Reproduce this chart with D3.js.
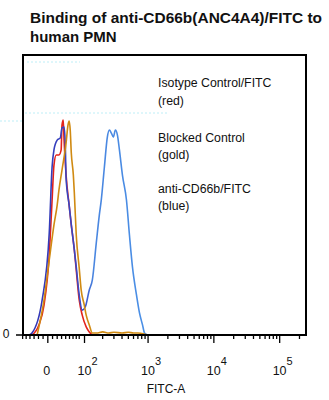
<!DOCTYPE html>
<html>
<head>
<meta charset="utf-8">
<script src="https://cdn.jsdelivr.net/npm/d3@7/dist/d3.min.js"></script>
<style>
  html, body { margin: 0; padding: 0; background: #fff; }
  svg { display: block; font-family: "Liberation Sans", Arial, sans-serif; }
</style>
</head>
<body>
<svg id="chart" width="329" height="400"></svg>
<script>
// ---- data (FITC-A fluorescence value, relative count) ----
const titleLines = ["Binding of anti-CD66b(ANC4A4)/FITC to", "human PMN"];
const xTitle = "FITC-A";
const yTickLabels = ["0"];
const majorTicks = [0, 100, 1000, 10000, 100000];
const majorTickLabels = ["0", "10|2", "10|3", "10|4", "10|5"];
const legendLines = ["Isotype Control/FITC", "(red)", "Blocked Control", "(gold)", "anti-CD66b/FITC", "(blue)"];

const blueX = [-42, -35, -12, 3, 9, 13, 20, 27, 31, 36, 39, 41, 49, 55, 64, 70, 80, 91, 103, 121, 136, 158, 177, 190, 213, 237, 255, 274, 294, 316, 340, 365, 406, 468, 520, 578, 666, 740, 823, 884, 981];
const blueY = [0, 0.7, 12.5, 36.4, 60, 66.1, 69.6, 70.4, 73.9, 74.3, 67.9, 56.1, 46.4, 39.3, 30.4, 24.3, 14.3, 8.9, 10, 16.1, 19.6, 32.9, 42.9, 48.2, 60, 70.7, 73.2, 72.1, 70.7, 73.2, 71.4, 66.1, 57.1, 48.2, 35.7, 24.3, 14.3, 7.9, 3.6, 0.7, 0];

const redX = [-35, -19, -8, 3, 9, 13, 18, 24, 29, 31, 34, 36, 41, 49, 55, 64, 70, 80, 91, 107, 121, 136];
const redY = [0, 3.6, 10.7, 28.6, 48.2, 60.7, 64.3, 64.3, 66.1, 75, 76.8, 69.6, 57.1, 46.4, 39.3, 30.4, 23.2, 12.5, 7.1, 2.9, 1.1, 0];

const goldX = [-23, -8, 3, 13, 20, 24, 31, 41, 46, 49, 52, 55, 61, 64, 70, 80, 87, 99, 107, 121, 136, 160, 200, 250, 300, 400, 500, 600, 700, 884, 981];
const goldY = [0, 12.5, 26.8, 39.3, 46.4, 51.8, 58.9, 68.6, 75, 76.4, 73.2, 65, 57.1, 50.7, 35.7, 23.9, 16.1, 10.7, 7.1, 3.6, 0.7, 0.7, 1.1, 0.7, 1, 0.7, 1, 0.7, 0.7, 0.3, 0];

const minorTicks = [-60, -50, -40, -30, -20, -10, 10, 20, 30, 40, 50, 60, 70, 80,
  200, 300, 400, 500, 600, 700, 800, 900,
  2000, 3000, 4000, 5000, 6000, 7000, 8000, 9000,
  20000, 30000, 40000, 50000, 60000, 70000, 80000, 90000, 200000];

// ---- layout ----
const svg = d3.select("#chart");
const box = { left: 23, top: 55, right: 306, bottom: 335 };

// biexponential-like display transform (asinh), then linear scale
const C = 30;
const T = v => Math.log10((v + Math.sqrt(v * v + 4 * C * C)) / 2);
const xLin = d3.scaleLinear().domain([1.1, 5.4]).range([box.left, box.right]);
const x = v => xLin(T(v));
const y = d3.scaleLinear().domain([0, 100]).range([box.bottom, box.top]);

// title
svg.append("g").selectAll("text").data(titleLines).join("text")
  .attr("x", 30).attr("y", (d, i) => 23 + i * 18.5)
  .attr("font-size", 15).attr("font-weight", "bold").attr("fill", "#111")
  .attr("textLength", (d, i) => i === 0 ? 292 : null)
  .attr("lengthAdjust", "spacingAndGlyphs")
  .text(d => d);

// faint cyan dotted artefact lines
const dots = svg.append("g").attr("stroke", "#bdeef7").attr("stroke-width", 1).attr("stroke-dasharray", "2,2");
dots.append("line").attr("x1", 0).attr("x2", box.left).attr("y1", 121).attr("y2", 121);
dots.append("line").attr("x1", box.left + 2).attr("x2", 168).attr("y1", 113).attr("y2", 113);
dots.append("line").attr("x1", 27).attr("x2", 80).attr("y1", 62).attr("y2", 62);

// curves
const line = d3.line().x(d => x(d[0])).y(d => y(d[1])).curve(d3.curveMonotoneX);
const defs = svg.append("defs");
const grad = defs.append("linearGradient").attr("id", "blueGrad")
  .attr("gradientUnits", "userSpaceOnUse")
  .attr("x1", x(-60)).attr("x2", x(1000)).attr("y1", 0).attr("y2", 0);
grad.append("stop").attr("offset", 0).attr("stop-color", "#3030b0");
grad.append("stop").attr("offset", (x(100) - x(-60)) / (x(1000) - x(-60))).attr("stop-color", "#3a4cc8");
grad.append("stop").attr("offset", (x(140) - x(-60)) / (x(1000) - x(-60))).attr("stop-color", "#4a86e0");
grad.append("stop").attr("offset", 1).attr("stop-color", "#4a90e6");

svg.append("path").datum(d3.zip(redX, redY)).attr("d", line)
  .attr("fill", "none").attr("stroke", "#e3231b").attr("stroke-width", 1.6);
svg.append("path").datum(d3.zip(blueX, blueY)).attr("d", line)
  .attr("fill", "none").attr("stroke", "url(#blueGrad)").attr("stroke-width", 1.6);
svg.append("path").datum(d3.zip(goldX, goldY)).attr("d", line)
  .attr("fill", "none").attr("stroke", "#d08a12").attr("stroke-width", 1.6);

// box
svg.append("rect").attr("x", box.left).attr("y", box.top)
  .attr("width", box.right - box.left).attr("height", box.bottom - box.top)
  .attr("fill", "none").attr("stroke", "#000").attr("stroke-width", 2);

// y axis tick & label
svg.append("line").attr("x1", box.left - 7).attr("x2", box.left).attr("y1", y(0)).attr("y2", y(0))
  .attr("stroke", "#000").attr("stroke-width", 1.5);
svg.append("text").attr("x", 6).attr("y", y(0) + 3).attr("text-anchor", "middle")
  .attr("font-size", 12).attr("fill", "#111").text(yTickLabels[0]);

// x ticks
const tk = svg.append("g").attr("stroke", "#000").attr("stroke-width", 1.3);
tk.selectAll("line.min").data(minorTicks).join("line").attr("class", "min")
  .attr("x1", d => x(d)).attr("x2", d => x(d)).attr("y1", box.bottom).attr("y2", box.bottom + 4);
tk.selectAll("line.maj").data(majorTicks).join("line").attr("class", "maj")
  .attr("x1", d => x(d)).attr("x2", d => x(d)).attr("y1", box.bottom).attr("y2", box.bottom + 8);

const lbl = svg.append("g").attr("font-size", 12.5).attr("fill", "#111");
majorTicks.forEach((v, i) => {
  const parts = majorTickLabels[i].split("|");
  const t = lbl.append("text").attr("y", 375);
  if (parts.length === 1) {
    t.attr("x", x(v) - 1).attr("text-anchor", "middle").text(parts[0]);
  } else {
    t.attr("x", x(v) - 7).append("tspan").text(parts[0]);
    t.append("tspan").attr("dy", -10).attr("font-size", 11).text(parts[1]);
  }
});
svg.append("text").attr("x", 166).attr("y", 393).attr("text-anchor", "middle")
  .attr("font-size", 12).attr("fill", "#111").text(xTitle);

// legend text
const legY = [87, 104.5, 142, 158.5, 193, 210];
svg.append("g").selectAll("text").data(legendLines).join("text")
  .attr("x", 158).attr("y", (d, i) => legY[i])
  .attr("font-size", 12.3).attr("fill", "#111").text(d => d);
</script>
</body>
</html>
